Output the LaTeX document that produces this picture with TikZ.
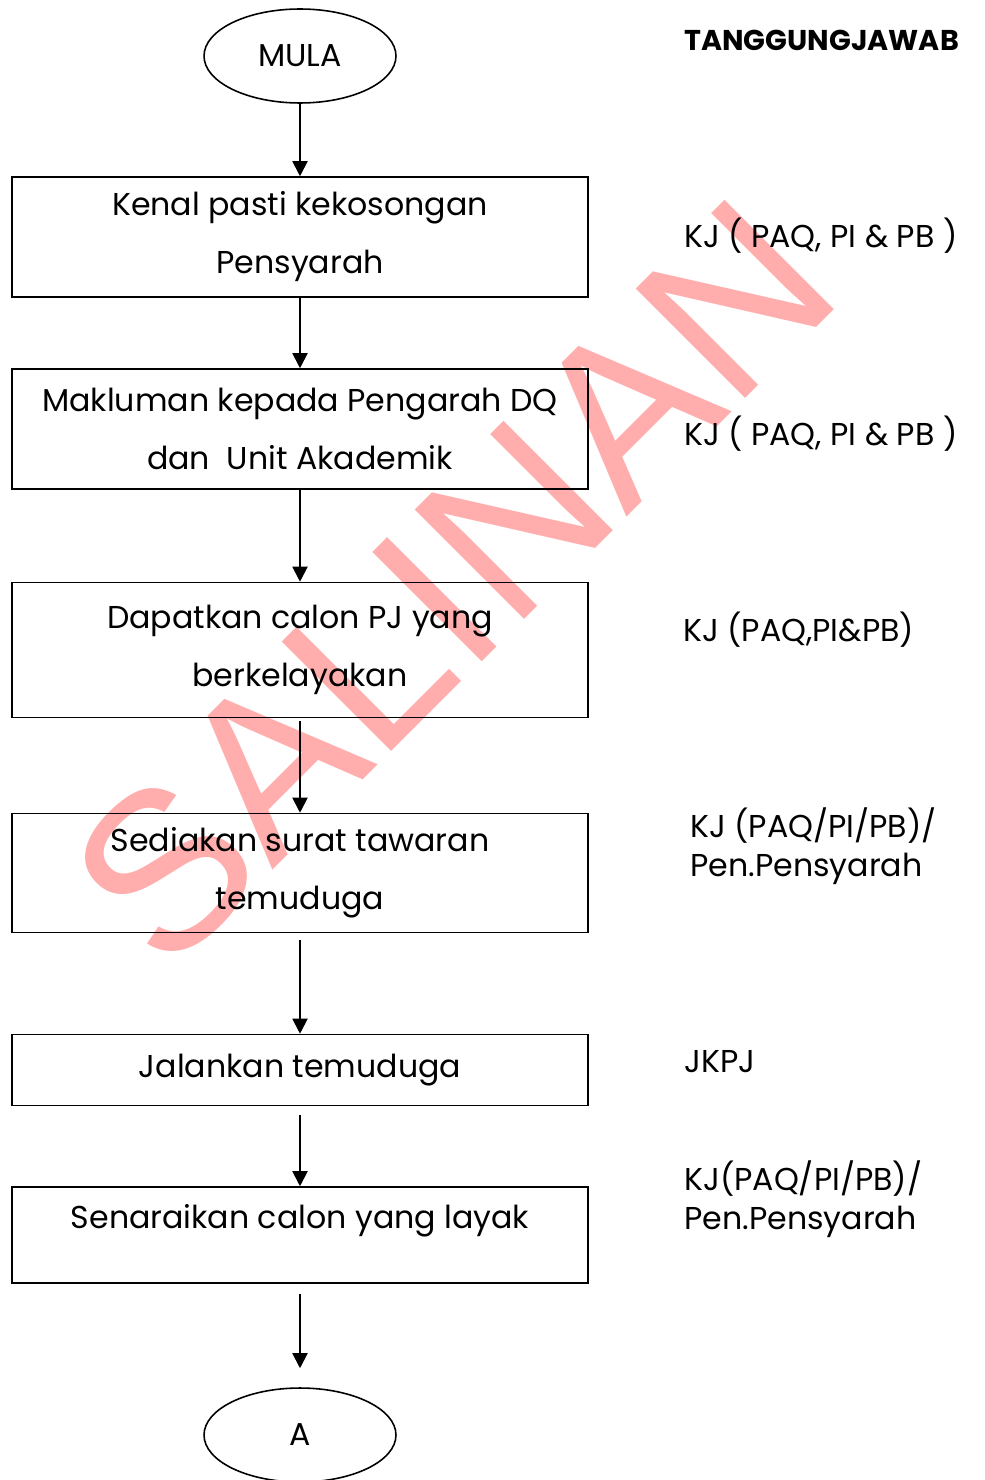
\documentclass[tikz,border=0pt]{standalone}
\usepackage{fontspec}
\setmainfont{Poppins}
\newfontfamily\markfont{Liberation Sans}
\usetikzlibrary{arrows.meta,shapes.geometric}

\begin{document}
\begin{tikzpicture}[x=0.02cm, y=-0.02cm,
  every node/.style={font=\fontsize{18}{33}\selectfont},
  box/.style={draw, line width=0.9pt, minimum width=11.52cm, align=center, inner sep=0pt},
  oval/.style={draw, ellipse, line width=0.9pt, minimum width=3.84cm, minimum height=1.88cm, inner sep=0pt},
  flow/.style={-{Triangle[width=0.3cm,length=0.3cm]}, line width=1.1pt},
  duty/.style={anchor=base west, inner sep=0pt}]

\useasboundingbox (0,0) rectangle (984,1480);

% watermark
\node[text=red!32, rotate=45, font=\markfont\fontsize{128}{128}\selectfont] (mark) at (452,582) {SALINAN};

% start / end
\node[oval] (mula) at (300,56) {MULA};
\node[oval] (sambung) at (300,1435) {A};

% steps
\node[box, minimum height=2.4cm] (b1) at (300,237) {Kenal pasti kekosongan\\Pensyarah};
\node[box, minimum height=2.4cm] (b2) at (300,429) {Makluman kepada Pengarah DQ\\dan\ \ Unit Akademik};
\node[box, minimum height=2.7cm] (b3) at (300,650) {Dapatkan calon PJ yang\\berkelayakan};
\node[box, minimum height=2.38cm] (b4) at (300,873) {Sediakan surat tawaran\\temuduga};
\node[box, minimum height=1.42cm] (b5) at (300,1070) {Jalankan temuduga};
\node[box, minimum height=1.92cm] (b6) at (300,1235) {};
\node (t6) at (300,1221) {Senaraikan calon yang layak};

% arrows
\draw[flow] (mula) -- (b1);
\draw[flow] (b1) -- (b2);
\draw[flow] (b2) -- (b3);
\draw[flow, shorten <=3*0.02cm] (b3) -- (b4);
\draw[flow, shorten <=7*0.02cm] (b4) -- (b5);
\draw[flow, shorten <=9*0.02cm] (b5) -- (b6);
\draw[flow, shorten <=10*0.02cm, shorten >=19*0.02cm] (b6) -- (sambung);

% tanggungjawab column
\node[duty, font=\fontsize{16.3}{33}\selectfont\bfseries] (tj) at (684,51) {TANGGUNGJAWAB};
\node[duty] (kj1) at (684,248) {KJ ( PAQ, PI \& PB )};
\node[duty] (kj2) at (684,445) {KJ ( PAQ, PI \& PB )};
\node[duty] (kj3) at (683,641) {KJ (PAQ,PI\&PB)};
\node[duty] (kj4a) at (690,837) {KJ (PAQ/PI/PB)/};
\node[duty] (kj4b) at (690,876) {Pen.Pensyarah};
\node[duty] (kj5) at (684,1072) {JKPJ};
\node[duty] (kj6a) at (684,1190) {KJ(PAQ/PI/PB)/};
\node[duty] (kj6b) at (684,1229) {Pen.Pensyarah};

\end{tikzpicture}
\end{document}
